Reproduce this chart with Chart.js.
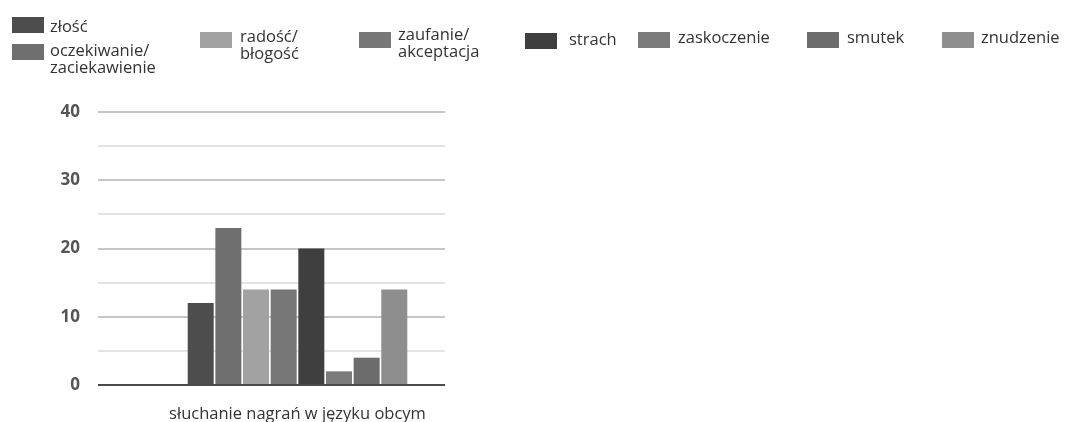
<!DOCTYPE html>
<html lang="pl">
<head>
<meta charset="utf-8">
<script src="https://cdn.jsdelivr.net/npm/chart.js@4"></script>
<style>
  html, body { margin: 0; padding: 0; background: #fff; }
  #wrap { position: relative; width: 1082px; height: 422px; overflow: hidden; }
  #chart { position: absolute; left: 0; top: 0; }
  .lg-item { position: absolute; font-family: "Open Sans", sans-serif; font-size: 16.5px; line-height: 16px; color: #333; white-space: nowrap; }
  .lg-box { position: absolute; width: 32px; height: 16px; }
</style>
</head>
<body>
<div id="wrap">
  <canvas id="chart" width="1082" height="422"></canvas>
  <div id="legend"></div>
</div>
<script>
// Kategoria na osi X
const categories = ['słuchanie nagrań w języku obcym'];

// Emocje (serie) i ich wartości
const seriesNames = [
  'złość',
  'oczekiwanie/zaciekawienie',
  'radość/błogość',
  'zaufanie/akceptacja',
  'strach',
  'zaskoczenie',
  'smutek',
  'znudzenie'
];
const seriesValues = [12, 23, 14, 14, 20, 2, 4, 14];
const seriesColors = ['#4d4d4d', '#6e6e6e', '#a2a2a2', '#777777', '#3f3f3f', '#7b7b7b', '#6c6c6c', '#8e8e8e'];

// Oś Y
const yMin = 0;
const yMax = 40;
const yStep = 5;
const yLabelEvery = 10;

// Rozmieszczenie elementów legendy: [lewa krawędź kwadratu, górna krawędź kwadratu, lewa krawędź tekstu, górna krawędź tekstu]
const legendLayout = [
  [12, 17, 50, 18],
  [12, 44, 50, 42],
  [200, 32, 240, 28],
  [359, 32, 398, 26],
  [525, 33, 569, 31],
  [638, 32, 678, 29],
  [807, 32, 847, 29],
  [942, 32, 981, 29]
];

const datasets = seriesNames.map((name, i) => ({
  label: name,
  data: [seriesValues[i]],
  backgroundColor: seriesColors[i],
  borderWidth: 0,
  barPercentage: 0.94,
  categoryPercentage: 0.75
}));

new Chart(document.getElementById('chart'), {
  type: 'bar',
  data: { labels: categories, datasets },
  options: {
    responsive: false,
    animation: false,
    layout: { padding: { top: 112, right: 637, left: 0, bottom: 0 } },
    plugins: { legend: { display: false }, tooltip: { enabled: false } },
    scales: {
      x: {
        grid: { display: false },
        border: { display: false },
        ticks: {
          color: '#333',
          font: { family: 'Open Sans', size: 16.5 },
          padding: 11
        },
        afterFit: (scale) => { scale.height = 37; }
      },
      y: {
        min: yMin,
        max: yMax,
        border: { display: false },
        grid: {
          tickLength: 52,
          color: (ctx) => {
            const v = ctx.tick ? ctx.tick.value : null;
            if (v === 0) return '#4a4a4a';
            if (v % yLabelEvery === 0) return '#c6c6c6';
            return '#e3e3e3';
          },
          lineWidth: 2
        },
        ticks: {
          stepSize: yStep,
          padding: 18,
          color: '#555',
          font: { family: 'Open Sans', size: 17, weight: '700' },
          callback: (v) => (v % yLabelEvery === 0 ? v : '')
        },
        afterFit: (scale) => { scale.width = 150; }
      }
    }
  }
});

// Legenda jako HTML, budowana z nazw i kolorów serii
const legend = document.getElementById('legend');
seriesNames.forEach((name, i) => {
  const [bx, by, tx, ty] = legendLayout[i];
  const box = document.createElement('div');
  box.className = 'lg-box';
  box.style.left = bx + 'px';
  box.style.top = by + 'px';
  box.style.background = seriesColors[i];
  legend.appendChild(box);

  const txt = document.createElement('div');
  txt.className = 'lg-item';
  txt.style.left = tx + 'px';
  txt.style.top = ty + 'px';
  const parts = name.split('/');
  txt.innerHTML = parts.length > 1 ? parts[0] + '/<br>' + parts.slice(1).join('/') : name;
  if (parts.length > 1) txt.style.lineHeight = '16.5px';
  legend.appendChild(txt);
});
</script>
</body>
</html>
